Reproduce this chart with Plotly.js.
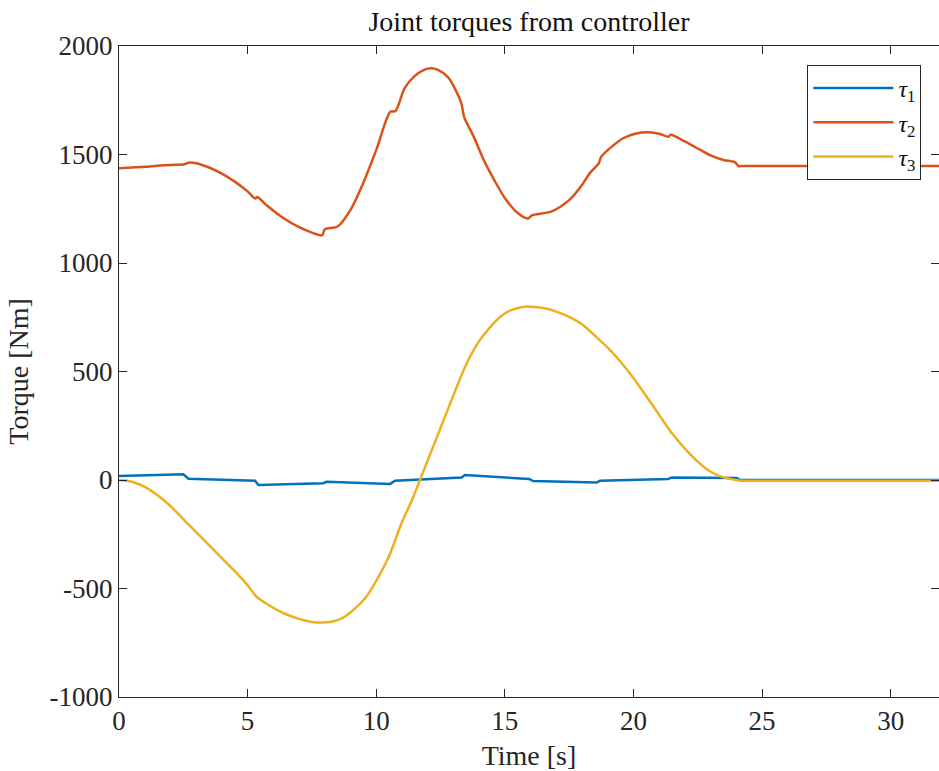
<!DOCTYPE html>
<html>
<head>
<meta charset="utf-8">
<script src="https://cdn.plot.ly/plotly-3.0.1.min.js"></script>
<style>html,body{margin:0;padding:0;background:#fff;}#chart{width:939px;height:771px;}</style>
</head>
<body>
<div id="chart"></div>
<script>
// tau1 (blue)
const t1 = [0, 2.5, 2.7, 5.29, 5.42, 7.94, 8.07, 10.54, 10.73, 13.32, 13.45, 15.95, 16.1, 18.57, 18.7, 21.36, 21.49, 24.02, 24.15, 32];
const tau1 = [18, 26, 6, -3, -23, -15, -8, -18, -3, 12, 23, 5, -5, -12, -3, 5, 12, 9, 0, 0];

// tau2 (red)
const t2 = [0, 0.5, 1, 1.5, 2, 2.55, 2.7, 3, 3.5, 4, 4.5, 5, 5.3, 5.37, 5.8, 6.4, 7, 7.5, 7.9, 8.0, 8.5, 9, 9.5, 10, 10.55, 10.75, 11.1, 11.5, 11.8, 12.1, 12.4, 12.8, 13.3, 13.42, 13.8, 14.2, 14.6, 15, 15.5, 15.9, 16.05, 16.8, 17.5, 18, 18.3, 18.65, 18.75, 19.2, 19.6, 20.1, 20.6, 21, 21.36, 21.45, 22, 22.6, 23, 23.5, 23.95, 24.08, 24.2, 24.5, 25.5, 28, 32];
const tau2 = [1437, 1440, 1443, 1448, 1452, 1455, 1462, 1460, 1440, 1412, 1375, 1330, 1297, 1304, 1260, 1206, 1165, 1140, 1128, 1155, 1168, 1245, 1370, 1520, 1697, 1700, 1805, 1862, 1887, 1897, 1890, 1855, 1740, 1672, 1580, 1470, 1380, 1300, 1230, 1205, 1220, 1237, 1290, 1360, 1413, 1459, 1490, 1540, 1575, 1597, 1603, 1596, 1582, 1591, 1560, 1521, 1496, 1475, 1464, 1447, 1447, 1447, 1447, 1447, 1447];

// tau3 (yellow)
const t3 = [0, 0.5, 1, 1.5, 2, 2.5, 2.7, 3, 3.5, 4, 4.5, 5, 5.35, 5.8, 6.4, 7, 7.5, 7.9, 8.3, 8.7, 9.1, 9.6, 10, 10.5, 11, 11.4, 11.7, 12, 12.5, 13, 13.4, 13.7, 14, 14.4, 14.8, 15.2, 15.6, 15.9, 16.2, 16.6, 17, 17.5, 18, 18.5, 19, 19.5, 20, 20.5, 21, 21.5, 22, 22.5, 23, 23.5, 24, 24.2, 24.5, 25.5, 28, 32];
const tau3 = [0, -8, -32, -70, -120, -180, -205, -240, -300, -360, -420, -485, -538, -575, -614, -640, -654, -657, -652, -635, -600, -540, -465, -350, -195, -90, 0, 90, 240, 390, 507, 580, 640, 700, 750, 780, 795, 800, 797, 790, 776, 752, 718, 665, 610, 545, 470, 386, 300, 215, 145, 85, 38, 12, 0, -3, -3, -3, -3, -3];

const xTicks = [0, 5, 10, 15, 20, 25, 30];
const yTicks = [-1000, -500, 0, 500, 1000, 1500, 2000];
const yTickText = ['-1000', '-500', '0', '500', '1000', '1500', '2000'];
const names = ['<i>τ</i><sub>1</sub>', '<i>τ</i><sub>2</sub>', '<i>τ</i><sub>3</sub>'];

const FONT = "'Liberation Serif', 'Times New Roman', serif";
const AX = '#262626';

const traces = [
  {x: t1, y: tau1, name: names[0], mode: 'lines', line: {color: '#0072BD', width: 2.5}},
  {x: t2, y: tau2, name: names[1], mode: 'lines', line: {color: '#D95319', width: 2.5, shape: 'spline', smoothing: 0.8}},
  {x: t3, y: tau3, name: names[2], mode: 'lines', line: {color: '#EDB120', width: 2.5, shape: 'spline', smoothing: 0.8}}
];

const layout = {
  width: 939, height: 771,
  margin: {l: 119, r: 0, t: 46, b: 74, pad: 0},
  paper_bgcolor: '#fff', plot_bgcolor: '#fff',
  font: {family: FONT, color: AX, size: 26},
  title: {text: 'Joint torques from controller', font: {family: FONT, size: 28, color: '#111'}, x: 0.5, xanchor: 'center', y: 0.973, yanchor: 'middle', xref: 'paper'},
  xaxis: {
    range: [0, 31.88], tickvals: xTicks, ticks: 'inside', ticklen: 8, tickcolor: AX, tickwidth: 1,
    showline: true, linecolor: AX, linewidth: 1, mirror: 'ticks', showgrid: false, zeroline: false,
    tickfont: {family: FONT, size: 27, color: AX},
    title: {text: 'Time [s]', font: {family: FONT, size: 28, color: AX}, standoff: 9},
    automargin: false
  },
  yaxis: {
    range: [-1000, 2000], tickvals: yTicks, ticktext: yTickText, ticks: 'inside', ticklen: 8, tickcolor: AX, tickwidth: 1,
    showline: true, linecolor: AX, linewidth: 1, mirror: 'ticks', showgrid: false, zeroline: false,
    tickfont: {family: FONT, size: 27, color: AX},
    title: {text: 'Torque [Nm]', font: {family: FONT, size: 28, color: AX}, standoff: 12},
    automargin: false
  },
  showlegend: true,
  legend: {
    x: 0.8395, y: 0.971, xanchor: 'left', yanchor: 'top',
    bgcolor: '#fff', bordercolor: AX, borderwidth: 1,
    font: {family: FONT, size: 24, color: '#111'},
    itemwidth: 80, tracegroupgap: 0
  }
};

Plotly.newPlot('chart', traces, layout, {displayModeBar: false, staticPlot: true});
</script>
</body>
</html>
